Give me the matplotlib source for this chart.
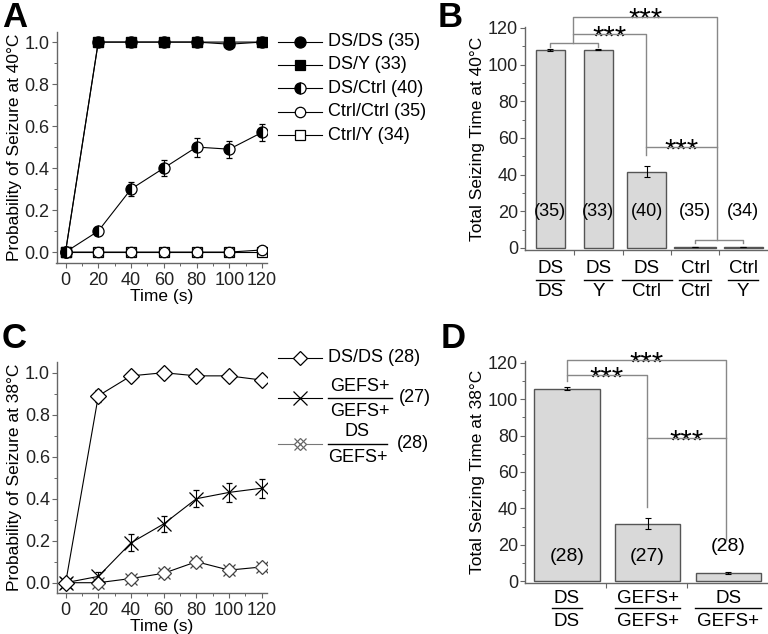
import matplotlib
matplotlib.use('Agg')
import matplotlib.pyplot as plt
from matplotlib.ticker import MultipleLocator

plt.rcParams['font.family'] = ['Liberation Sans', 'DejaVu Sans']

# ---------------- data ----------------
time_s = [0, 20, 40, 60, 80, 100, 120]

# Panel A (40 C)
a_dsds = [0, 1.0, 1.0, 1.0, 1.0, 0.99, 1.0]
a_dsy = [0, 1.0, 1.0, 1.0, 1.0, 1.0, 1.0]
a_dsctrl = [0, 0.10, 0.30, 0.40, 0.50, 0.49, 0.57]
a_dsctrl_err = [0, 0.01, 0.035, 0.04, 0.045, 0.04, 0.04]
a_ctrlctrl = [0, 0, 0, 0, 0, 0, 0.01]
a_ctrly = [0, 0, 0, 0, 0, 0, 0]
a_ctrly_err = [0, 0.01, 0.01, 0.01, 0.01, 0, 0.01]
a_labels = ['DS/DS (35)', 'DS/Y (33)', 'DS/Ctrl (40)', 'Ctrl/Ctrl (35)', 'Ctrl/Y (34)']

# Panel B (40 C totals)
b_num = ['DS', 'DS', 'DS', 'Ctrl', 'Ctrl']
b_den = ['DS', 'Y', 'Ctrl', 'Ctrl', 'Y']
b_vals = [108.0, 108.2, 41.6, 0.5, 0.3]
b_err = [0.4, 0.4, 3.0, 0.0, 0.0]
b_n = ['(35)', '(33)', '(40)', '(35)', '(34)']

# Panel C (38 C)
c_dsds = [0, 0.89, 0.985, 1.0, 0.985, 0.985, 0.965]
c_dsds_err = [0, 0.03, 0.012, 0, 0.01, 0.012, 0.01]
c_gefs = [0, 0.03, 0.19, 0.28, 0.40, 0.43, 0.45]
c_gefs_err = [0, 0.02, 0.04, 0.04, 0.04, 0.045, 0.045]
c_dsgefs = [0, 0.0, 0.02, 0.045, 0.10, 0.06, 0.075]
c_dsgefs_err = [0, 0.005, 0.01, 0.012, 0.015, 0.015, 0.012]
c_n = ['(28)', '(27)', '(28)']

# Panel D (38 C totals)
d_num = ['DS', 'GEFS+', 'DS']
d_den = ['DS', 'GEFS+', 'GEFS+']
d_vals = [105.8, 31.6, 4.6]
d_err = [1.0, 3.0, 0.7]
d_n = ['(28)', '(27)', '(28)']

# ---------------- style ----------------
SPINE = '#666666'
BRK = '#888888'
BAR = '#d9d9d9'
BAREDGE = '#555555'
FS = 13
FL = 12.5

fig = plt.figure(figsize=(7.68, 6.34), dpi=100)


def px_axes(l, t, r, b):
    W, H = 768.0, 634.0
    return fig.add_axes([l / W, 1 - b / H, (r - l) / W, (b - t) / H])


def style(ax):
    for s in ['top', 'right']:
        ax.spines[s].set_visible(False)
    for s in ['left', 'bottom']:
        ax.spines[s].set_color(SPINE)
        ax.spines[s].set_linewidth(1.0)
    ax.tick_params(which='major', direction='out', length=3.5, width=0.8,
                   color=SPINE, labelsize=FS, pad=1.5, labelcolor='#222222')
    ax.tick_params(axis='x', which='major', pad=3)
    ax.tick_params(which='minor', direction='out', length=2, width=0.7, color=SPINE)


ov = fig.add_axes([0, 0, 1, 1])
ov.set_xlim(0, 768)
ov.set_ylim(634, 0)
ov.axis('off')

ekw = dict(elinewidth=0.8, capsize=2.2, capthick=0.8, ecolor='black')

# ---------------- Panel A ----------------
axA = px_axes(56.5, 32, 267, 263)
style(axA)
axA.errorbar(time_s, a_ctrly, yerr=a_ctrly_err, color='black', lw=0.8, marker='s', ms=7,
             mfc='white', mec='black', mew=0.9, **ekw)
axA.errorbar(time_s, a_ctrlctrl, color='black', lw=0.8, marker='o', ms=7.5,
             mfc='white', mec='black', mew=0.9)
axA.errorbar(time_s, a_dsctrl, yerr=a_dsctrl_err, color='black', lw=0.8, marker='o', ms=8,
             fillstyle='left', mfc='black', mfcalt='white', mec='black', mew=0.9, **ekw)
axA.plot(time_s, a_dsy, color='black', lw=0.8, marker='s', ms=7.5, mfc='black', mec='black')
axA.plot(time_s, a_dsds, color='black', lw=0.8, marker='o', ms=8, mfc='black', mec='black')
axA.set_xlim(-5.5, 123)
axA.set_ylim(-0.052, 1.048)
axA.xaxis.set_major_locator(MultipleLocator(20))
axA.xaxis.set_minor_locator(MultipleLocator(10))
axA.yaxis.set_major_locator(MultipleLocator(0.2))
axA.yaxis.set_minor_locator(MultipleLocator(0.1))
axA.yaxis.set_major_formatter(plt.FormatStrFormatter('%.1f'))
axA.set_xlabel('Time (s)', fontsize=FL, labelpad=0)
axA.set_ylabel('Probability of Seizure at 40°C', fontsize=FL, labelpad=2)

# legend A (manual)
leg_styles = [dict(marker='o', mfc='black', ms=8),
              dict(marker='s', mfc='black', ms=7.5),
              dict(marker='o', fillstyle='left', mfc='black', mfcalt='white', ms=8),
              dict(marker='o', mfc='white', ms=7.5),
              dict(marker='s', mfc='white', ms=7)]
for i, (lab, st) in enumerate(zip(a_labels, leg_styles)):
    y = 41.5 + 23.4 * i
    ov.plot([278, 322], [y, y], color='black', lw=0.8)
    ov.plot([300], [y], color='black', mec='black', mew=0.9, **st)
    ov.text(328, y, lab, fontsize=FS, va='center', ha='left')

# ---------------- Panel B ----------------
axB = px_axes(525, 27, 767, 250)
style(axB)
b_x = list(range(len(b_vals)))
b_w = [0.6, 0.6, 0.8, 0.85, 0.8]
axB.bar(b_x, b_vals, width=b_w, color=BAR, edgecolor=BAREDGE, linewidth=1.0, zorder=2)
axB.errorbar(b_x, b_vals, yerr=b_err, fmt='none', zorder=3, **ekw)
axB.set_xlim(-0.52, 4.49)
axB.set_ylim(-1.1, 120.5)
axB.yaxis.set_major_locator(MultipleLocator(20))
axB.yaxis.set_minor_locator(MultipleLocator(10))
axB.set_xticks([0.5, 1.5, 2.5, 3.5])
axB.set_xticklabels([])
axB.set_ylabel('Total Seizing Time at 40°C', fontsize=FL, labelpad=2)
for i, t in enumerate(b_n):
    axB.text(i, 20, t, ha='center', va='center', fontsize=13, zorder=4)
trB = axB.get_xaxis_transform()
b_hw = [0.29, 0.29, 0.52, 0.34, 0.31]
for i, (n, d) in enumerate(zip(b_num, b_den)):
    axB.text(i, -0.081, n, transform=trB, ha='center', va='center', fontsize=13.5)
    axB.text(i, -0.188, d, transform=trB, ha='center', va='center', fontsize=13.5)
    axB.plot([i - b_hw[i], i + b_hw[i]], [-0.135, -0.135], transform=trB,
             color='black', lw=1.0, clip_on=False)


def line(ax, xs, ys):
    ax.plot(xs, ys, color=BRK, lw=1.0, clip_on=False, zorder=5)


def stars(ax, x, y):
    ax.annotate('***', (x, y), xytext=(0, -8), textcoords='offset points',
                ha='center', va='baseline', fontsize=21, annotation_clip=False)


# B brackets
line(axB, [0, 0, 1, 1], [109.6, 111.8, 111.8, 109.6])
line(axB, [3, 3, 4, 4], [2.7, 4.4, 4.4, 2.7])
line(axB, [0.48, 0.48, 1.99, 1.99], [111.8, 116.5, 116.5, 50.7])
stars(axB, (0.48 + 1.99) / 2, 116.5)
line(axB, [0.48, 0.48, 3.46, 3.46], [116.5, 126, 126, 4.4])
stars(axB, (0.48 + 3.46) / 2, 126)
line(axB, [1.99, 3.46], [55, 55])
stars(axB, (1.99 + 3.46) / 2, 55)

# ---------------- Panel C ----------------
axC = px_axes(57, 362, 267, 593)
style(axC)
axC.errorbar(time_s, c_dsgefs, yerr=c_dsgefs_err, color='black', lw=0.8, marker='D', ms=7,
             mfc='white', mec='#444444', mew=0.9, **ekw)
axC.plot(time_s, c_dsgefs, ls='none', marker='x', ms=9, mec='#444444', mew=0.9)
axC.errorbar(time_s, c_gefs, yerr=c_gefs_err, color='black', lw=0.8, marker='x', ms=10,
             mec='black', mew=0.9, **ekw)
axC.errorbar(time_s, c_dsds, yerr=c_dsds_err, color='black', lw=0.8, marker='D', ms=8,
             mfc='white', mec='black', mew=0.9, **ekw)
axC.set_xlim(-5.3, 123.2)
axC.set_ylim(-0.049, 1.051)
axC.xaxis.set_major_locator(MultipleLocator(20))
axC.xaxis.set_minor_locator(MultipleLocator(10))
axC.yaxis.set_major_locator(MultipleLocator(0.2))
axC.yaxis.set_minor_locator(MultipleLocator(0.1))
axC.yaxis.set_major_formatter(plt.FormatStrFormatter('%.1f'))
axC.set_xlabel('Time (s)', fontsize=FL, labelpad=0)
axC.set_ylabel('Probability of Seizure at 38°C', fontsize=FL, labelpad=2)

# legend C (manual)
ov.plot([278, 322], [358, 358], color='black', lw=0.8)
ov.plot([300], [358], marker='D', ms=7, mfc='white', mec='black', mew=0.9)
ov.text(328, 358, 'DS/DS ' + c_n[0], fontsize=FS, va='center', ha='left')

ov.plot([278, 322], [398, 398], color='black', lw=0.8)
ov.plot([300], [398], marker='x', ms=10, mec='black', mew=0.9)
ov.text(360, 386.5, 'GEFS+', fontsize=FS, va='center', ha='center')
ov.plot([328, 392], [397.7, 397.7], color='black', lw=1.0)
ov.text(360, 411.5, 'GEFS+', fontsize=FS, va='center', ha='center')
ov.text(399, 398, c_n[1], fontsize=FS, va='center', ha='left')

ov.plot([278, 322], [444, 444], color='#777777', lw=0.8)
ov.plot([300], [444], marker='D', ms=6.5, mfc='white', mec='#666666', mew=0.9)
ov.plot([300], [444], marker='x', ms=8, mec='#666666', mew=0.9)
ov.text(357.5, 432, 'DS', fontsize=FS, va='center', ha='center')
ov.plot([328, 387], [444, 444], color='black', lw=1.0)
ov.text(357.5, 457, 'GEFS+', fontsize=FS, va='center', ha='center')
ov.text(397, 444, c_n[2], fontsize=FS, va='center', ha='left')

# ---------------- Panel D ----------------
axD = px_axes(525, 361, 767, 583)
style(axD)
d_x = list(range(len(d_vals)))
axD.bar(d_x, d_vals, width=0.81, color=BAR, edgecolor=BAREDGE, linewidth=1.0, zorder=2)
axD.errorbar(d_x, d_vals, yerr=d_err, fmt='none', zorder=3, **ekw)
axD.set_xlim(-0.52, 2.48)
axD.set_ylim(-1.0, 121)
axD.yaxis.set_major_locator(MultipleLocator(20))
axD.yaxis.set_minor_locator(MultipleLocator(10))
axD.set_xticks([0.48, 1.49])
axD.set_xticklabels([])
axD.set_ylabel('Total Seizing Time at 38°C', fontsize=FL, labelpad=2)
d_ny = [13.7, 13.7, 19.2]
for i, t in enumerate(d_n):
    axD.text(i, d_ny[i], t, ha='center', va='center', fontsize=14, zorder=4)
trD = axD.get_xaxis_transform()
d_hw = [0.19, 0.4, 0.41]
for i, (n, d) in enumerate(zip(d_num, d_den)):
    axD.text(i, -0.068, n, transform=trD, ha='center', va='center', fontsize=13.5)
    axD.text(i, -0.175, d, transform=trD, ha='center', va='center', fontsize=13.5)
    axD.plot([i - d_hw[i], i + d_hw[i]], [-0.113, -0.113], transform=trD,
             color='black', lw=1.0, clip_on=False)

line(axD, [0, 0, 0.99, 0.99], [110, 113.2, 113.2, 41])
stars(axD, 0.495, 113.2)
line(axD, [0, 0, 1.97, 1.97], [113.2, 121.5, 121.5, 22.8])
stars(axD, 0.985, 121.5)
line(axD, [0.99, 1.97], [78.5, 78.5])
stars(axD, 1.48, 78.5)

# ---------------- panel letters ----------------
for lab, x, y in [('A', 2, 1), ('B', 438, 1), ('C', 2, 322), ('D', 441, 322)]:
    ov.text(x, y, lab, fontsize=25, fontweight='bold', ha='left', va='top')

fig.savefig('out.png', dpi=100)
